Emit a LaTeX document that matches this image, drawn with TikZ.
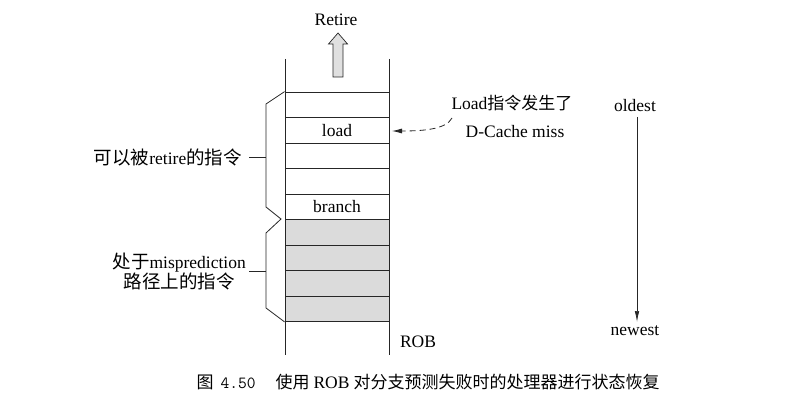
\documentclass[tikz,border=0pt]{standalone}
\usepackage{fontspec}
\setmainfont{Liberation Serif}
\newfontfamily\cjk{Noto Sans CJK SC}
\usetikzlibrary{arrows.meta}
\newcommand{\latinsz}{\fontsize{17.5}{20}\selectfont}
\newcommand{\cjksz}{\fontsize{17}{21}\selectfont}
\newcommand{\cjkbig}{\fontsize{18.5}{22}\selectfont}
\begin{document}
\begin{tikzpicture}[x=1pt,y=-1pt,
  robrow/.style={draw=black!85,line width=0.8pt,minimum width=104pt,minimum height=25.5pt,inner sep=0pt,font=\latinsz},
  grayrow/.style={robrow,fill=black!14},
  lbl/.style={inner sep=0pt,font=\latinsz},
  cjklbl/.style={inner sep=0pt,font=\cjksz},
  ln/.style={draw=black!85,line width=0.8pt}]
\useasboundingbox (0,0) rectangle (800,406);
% rows
\node[robrow] (r1) at (337,104.75) {};
\node[robrow] (r2) at (337,130.25) {load};
\node[robrow] (r3) at (337,155.75) {};
\node[robrow] (r4) at (337,181.25) {};
\node[robrow] (r5) at (337,206.75) {branch};
\node[grayrow] (r6) at (337,232.25) {};
\node[grayrow] (r7) at (337,257.75) {};
\node[grayrow] (r8) at (337,283.25) {};
\node[grayrow] (r9) at (337,308.75) {};
% walls
\coordinate (tl) at (285,59); \coordinate (bl) at (285,355);
\coordinate (tr) at (389,59); \coordinate (br) at (389,355);
\draw[ln] (tl) -- (bl);
\draw[ln] (tr) -- (br);
% retire arrow
\node[lbl] (retire) at (336,20) {Retire};
\draw[ln,line width=0.7pt,fill=black!12] (338,33) -- (347.5,44) -- (343,44) -- (343,77) -- (333,77) -- (333,44) -- (328.5,44) -- cycle;
% braces
\draw[ln] (r1.north west) -- (266,104) -- (266,207) -- (281,219) -- (266,233) -- (266,308) -- (r9.south west);
\node[cjklbl,anchor=east] (retlbl) at (242,157) {{\cjk\cjkbig 可以被}\latinsz retire{\cjk\cjkbig 的指令}};
\draw[ln] (249,157) -- (266,157);
\node[cjklbl,anchor=east,align=center] (mislbl) at (246,272) {{\cjk\cjkbig 处于}\latinsz misprediction\\[-1pt]{\cjk\cjkbig 路径上的指令}};
\draw[ln] (249,271) -- (266,271);
% ROB label
\node[lbl] (rob) at (418,342) {ROB};
% annotation
\node[cjklbl] (ann1) at (512,103) {{\latinsz Load}{\cjk 指令发生了}};
\node[lbl] (ann2) at (515,132) {D-Cache miss};
\coordinate (annstart) at (452,118);
\coordinate (annend) at (392,131);
\draw[ln,line width=0.8pt,dash pattern=on 6pt off 4pt,-{Latex[length=10pt,width=5pt]}] (annstart) .. controls (446,130) and (420,131) .. (annend);
% oldest/newest
\node[lbl] (oldest) at (635,106) {oldest};
\node[lbl] (newest) at (635,331) {newest};
\draw[ln,line width=0.7pt,-{Latex[length=11pt,width=4.5pt]}] (637,117) -- (637,322);
% caption
\node[inner sep=0pt] (cap) at (428,382) {{\cjk\fontsize{17}{20}\selectfont 图}\hspace{7pt}{\fontfamily{lmtt}\fontsize{17}{20}\selectfont 4.50}\hspace{20pt}{\cjk\fontsize{17}{20}\selectfont 使用}\hspace{4pt}{\fontsize{17.5}{20}\selectfont ROB}\hspace{4pt}{\cjk\fontsize{17}{20}\selectfont 对分支预测失败时的处理器进行状态恢复}};
\end{tikzpicture}
\end{document}
